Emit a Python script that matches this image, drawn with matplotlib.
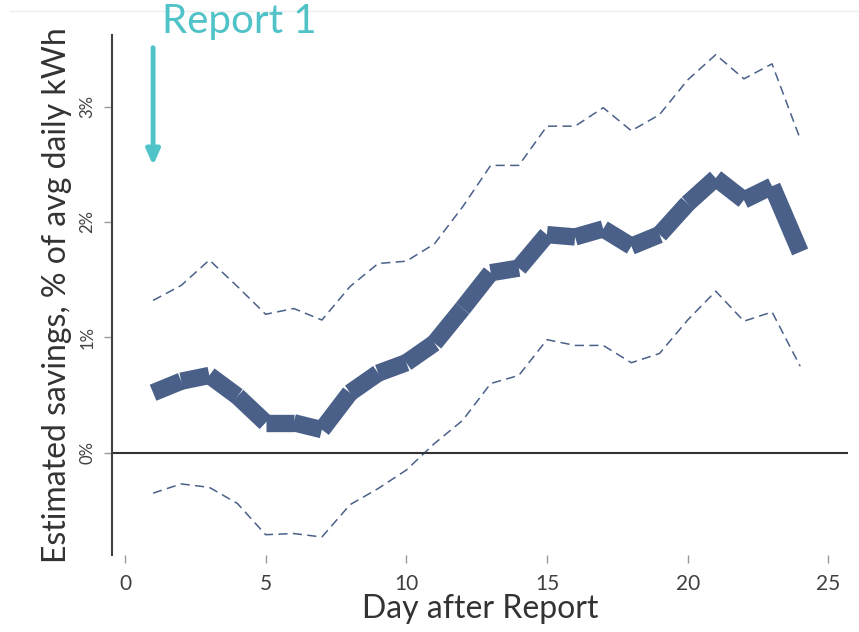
import matplotlib.pyplot as plt
from matplotlib.lines import Line2D

# values (percent of avg daily kWh)
days = list(range(1, 25))
estimate = [0.52, 0.62, 0.67, 0.49, 0.26, 0.26, 0.20, 0.52, 0.69, 0.78, 0.95, 1.25,
            1.56, 1.60, 1.89, 1.87, 1.94, 1.79, 1.89, 2.16, 2.38, 2.19, 2.31, 1.74]
upper = [1.32, 1.45, 1.67, 1.44, 1.20, 1.25, 1.15, 1.44, 1.64, 1.66, 1.81, 2.13,
         2.49, 2.49, 2.83, 2.83, 2.99, 2.79, 2.93, 3.23, 3.45, 3.24, 3.37, 2.72]
lower = [-0.35, -0.27, -0.30, -0.44, -0.71, -0.70, -0.73, -0.45, -0.31, -0.15, 0.08, 0.28,
         0.60, 0.67, 0.98, 0.93, 0.93, 0.78, 0.86, 1.15, 1.40, 1.14, 1.22, 0.75]
xticks = [0, 5, 10, 15, 20, 25]
yticks = [0, 1, 2, 3]
ytick_labels = ['0%', '1%', '2%', '3%']

blue = '#4a6089'
teal = '#4fc3c7'
plt.rcParams['font.family'] = ['Lato', 'DejaVu Sans']

fig = plt.figure(figsize=(8.59, 6.32), dpi=100)
ax = fig.add_axes([112 / 859, 1 - 555 / 632, (848 - 112) / 859, (555 - 35) / 632])

# thick estimate line, drawn segment by segment like the original
for i in range(len(days) - 1):
    ax.plot(days[i:i + 2], estimate[i:i + 2], color=blue, lw=12.5, solid_capstyle='butt')
ax.plot(days, upper, color=blue, lw=1.1, linestyle=(0, (6, 3.5)))
ax.plot(days, lower, color=blue, lw=1.1, linestyle=(0, (6, 3.5)))
ax.axhline(0, color='#333333', lw=1.5)

ax.set_xlim(-0.46, 25.7)
ax.set_ylim(-0.886, 3.62)

for s in ['top', 'right', 'bottom']:
    ax.spines[s].set_visible(False)
ax.spines['left'].set_color('#404040')
ax.spines['left'].set_linewidth(1.5)

ax.set_xticks(xticks)
ax.set_yticks(yticks)
ax.set_yticklabels(ytick_labels, rotation=90, va='center')
ax.tick_params(axis='x', length=6, width=1, color='#999999', labelsize=15,
               labelcolor='#404040', pad=8)
ax.tick_params(axis='y', length=6, width=1, color='#999999', labelsize=12,
               labelcolor='#404040', pad=6)

ax.set_xlabel('Day after Report', fontsize=23, color='#333333', labelpad=0)
ax.set_ylabel('Estimated savings, % of avg daily kWh', fontsize=23, color='#333333', labelpad=5)

# report marker
ax.annotate('', xy=(1, 2.49), xytext=(1, 3.51),
            arrowprops=dict(arrowstyle='-|>,head_length=0.9,head_width=0.4',
                            color=teal, lw=3.5, shrinkA=0, shrinkB=0),
            annotation_clip=False)
fig.text(162 / 859, 1 - 22 / 632, 'Report 1', color=teal, fontsize=29,
         ha='left', va='center')

# faint frame line at the top
fig.add_artist(Line2D([10 / 859, 1], [1 - 11 / 632, 1 - 11 / 632],
                      transform=fig.transFigure, color='#eeeeee', lw=1))

fig.savefig('out.png', dpi=100)
